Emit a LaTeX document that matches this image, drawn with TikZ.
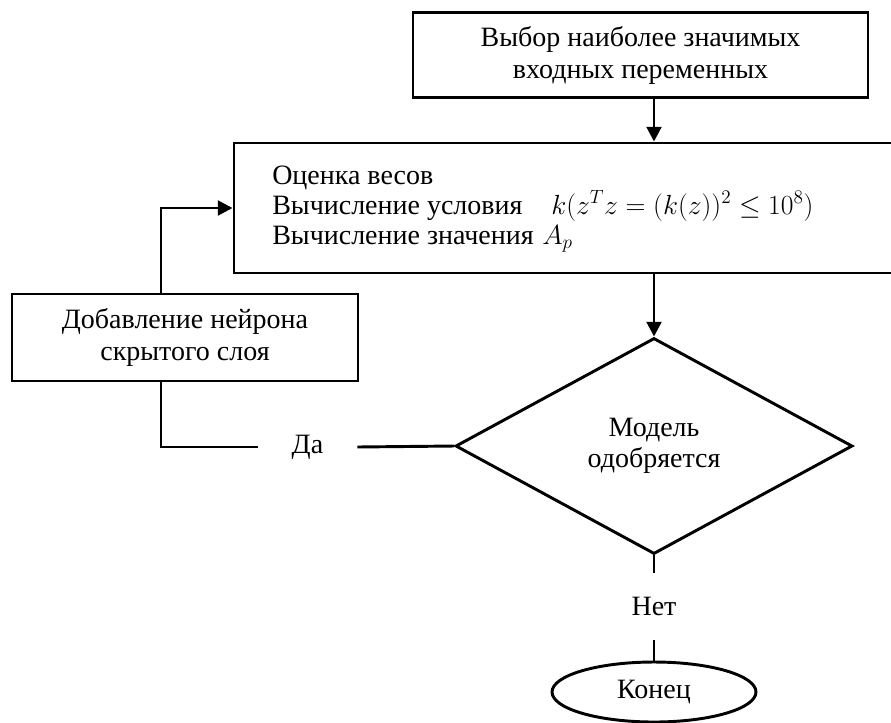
\documentclass[tikz,border=0pt]{standalone}
\usepackage[no-math]{fontspec}
\setmainfont{Liberation Serif}
\usetikzlibrary{shapes.geometric,arrows.meta}
\begin{document}
\begin{tikzpicture}[x=0.75pt,y=-0.75pt,
  lw/.style={line width=2.2pt},
  lbl/.style={font=\fontsize{21}{24}\selectfont, inner sep=0},
  box/.style={draw, rectangle, inner sep=0, lw, lbl, align=center},
  arr/.style={lw,-{Triangle[length=11pt,width=11pt]}},
  conn/.style={lw}]
\useasboundingbox (0,0) rectangle (891,722);
\coordinate (X) at (654,0);
\coordinate (L) at (161,0);
\node[box, minimum width=341.25pt, minimum height=63.75pt] (top) at (640.5,55) {Выбор наиболее значимых\\входных переменных};
\node[box, minimum width=544.5pt, minimum height=97.5pt] (main) at (597,208) {};
\node[lbl, anchor=base west] (t1) at (272,184) {Оценка весов};
\node[lbl, anchor=base west] (t2) at (272,214) {Вычисление условия};
\node[lbl, anchor=base west] (f1) at (551,214) {$k(z^Tz=(k(z))^2\leq10^8)$};
\node[lbl, anchor=base west] (t3) at (272,244) {Вычисление значения};
\node[lbl, anchor=base west] (f2) at (542,244) {$A_p$};
\node[box, minimum width=259.5pt, minimum height=65.25pt] (lb) at (185,337.5) {Добавление нейрона\\скрытого слоя};
\node[draw, lw, diamond, lbl, inner sep=0, minimum width=297.75pt, minimum height=162pt, align=center, font=\fontsize{21}{23}\selectfont] (dia) at (654,446) {Модель\\одобряется};
\node[lbl, minimum width=74.25pt] (da) at (307.5,447) {Да};
\node[lbl, minimum height=50.25pt] (net) at (654,606.5) {Нет};
\node[draw, lw, ellipse, lbl, inner sep=0, minimum width=153pt, minimum height=45pt] (end) at (654,692) {Конец};
\draw[arr] (top.south -| X) -- (main.north -| X);
\draw[arr] (main.south -| X) -- (dia.north);
\draw[arr] (lb.north -| L) |- (main.west);
\draw[conn] (lb.south -| L) |- (da.west);
\draw[conn] (da.east) -- (dia.west);
\draw[conn] (dia.south) -- (net.north);
\draw[conn] (net.south) -- (end.north);
\end{tikzpicture}
\end{document}
